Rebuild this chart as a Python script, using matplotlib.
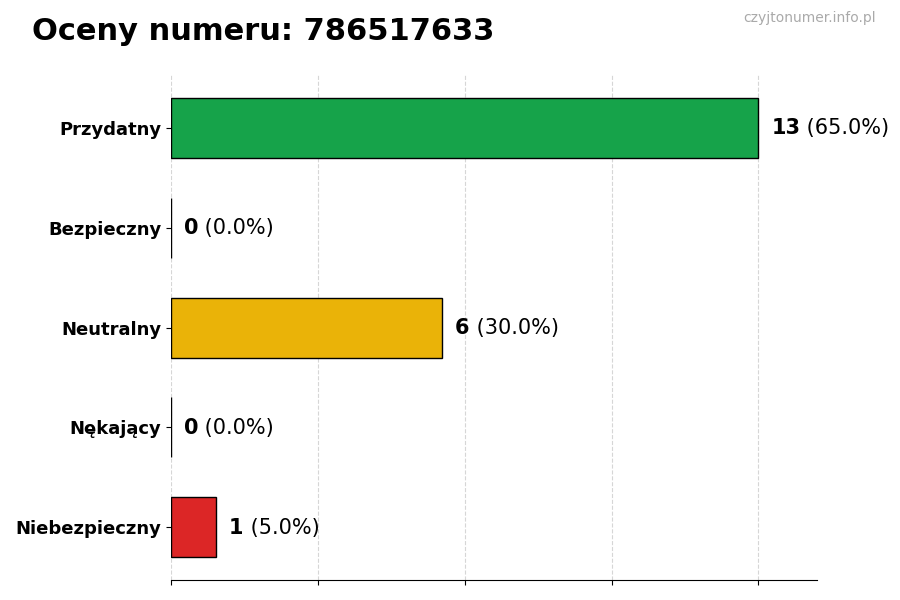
import numpy as np
import matplotlib
matplotlib.use("Agg")
import matplotlib.pyplot as plt

# data
categories = ["Przydatny", "Bezpieczny", "Neutralny", "Nękający", "Niebezpieczny"]
counts = [13, 0, 6, 0, 1]
colors = ["#16a34a", "#16a34a", "#eab308", "#dc2626", "#dc2626"]
phone = "786517633"

total = sum(counts)
max_val = max(counts)

fig = plt.figure(figsize=(9, 6), dpi=100)
ax = fig.add_axes([0.19, 0.033, 0.718, 0.842])

y = np.arange(len(categories))
ax.barh(y, counts, height=0.6, color=colors, edgecolor="black", linewidth=1, zorder=3)
ax.invert_yaxis()

ax.set_xlim(0, max_val * 1.1)
ax.set_xticks(np.linspace(0, max_val, 5))
ax.set_xticklabels([])
ax.set_yticks(y)
ax.set_yticklabels(categories, fontsize=13, fontweight="bold")

ax.grid(axis="x", linestyle="--", color="#cccccc", alpha=0.8, zorder=0)
for side in ["top", "right", "left"]:
    ax.spines[side].set_visible(False)

# value labels: bold count + normal percentage
off = max_val * 1.1 * 0.02
for i, c in enumerate(counts):
    pct = c / total * 100 if total else 0
    t = ax.text(c + off, i + 0.065, str(c), fontsize=15, fontweight="bold",
                va="baseline", ha="left", zorder=4)
    ax.annotate(f" ({pct:.1f}%)", xy=(1, i + 0.065), xycoords=(t, "data"),
                fontsize=15, va="baseline", ha="left", zorder=4)

fig.text(0.035, 0.933, f"Oceny numeru: {phone}", fontsize=22, fontweight="bold",
         ha="left", va="baseline")
fig.text(0.973, 0.982, "czyjtonumer.info.pl", fontsize=10, color="#aaaaaa",
         ha="right", va="top")

fig.savefig("out.png", dpi=100)
